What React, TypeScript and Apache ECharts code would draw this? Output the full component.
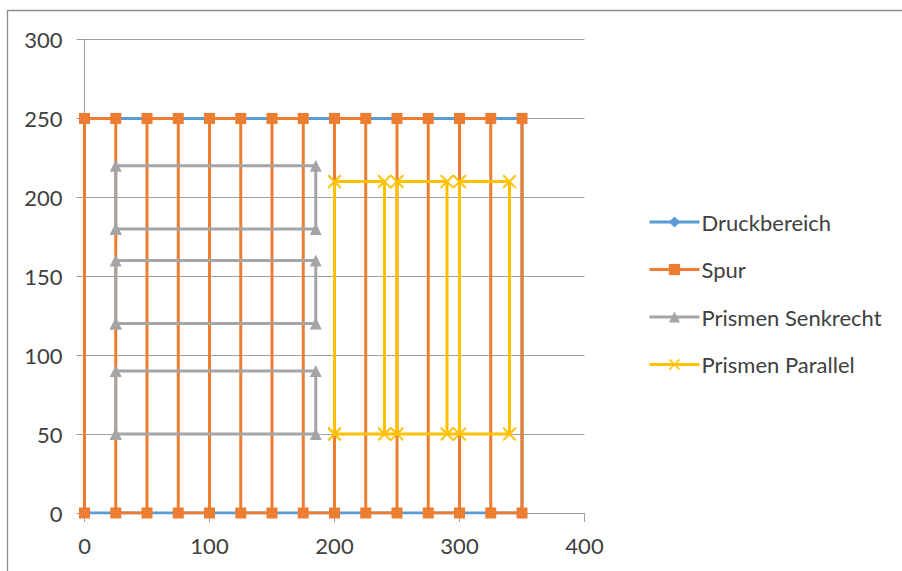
import React, { useEffect, useRef } from "react";
import * as echarts from "echarts";

// Druckbereich (print area outline)
const druckX = [0, 350, 350, 0, 0];
const druckY = [0, 0, 250, 250, 0];

// Spur (track)
const spurX = [0, 0, 25, 25, 50, 50, 75, 75, 100, 100, 125, 125, 150, 150, 175, 175, 200, 200, 225, 225, 250, 250, 275, 275, 300, 300, 325, 325, 350, 350];
const spurY = [0, 250, 250, 0, 0, 250, 250, 0, 0, 250, 250, 0, 0, 250, 250, 0, 0, 250, 250, 0, 0, 250, 250, 0, 0, 250, 250, 0, 0, 250];

// Prismen Senkrecht (null = gap)
const senkX = [25, 185, 185, 25, 25, null, 25, 185, 185, 25, 25, null, 25, 185, 185, 25, 25];
const senkY = [50, 50, 90, 90, 50, null, 120, 120, 160, 160, 120, null, 180, 180, 220, 220, 180];

// Prismen Parallel
const parX = [200, 200, 240, 240, 250, 250, 290, 290, 300, 300, 340, 340, 200];
const parY = [50, 210, 210, 50, 50, 210, 210, 50, 50, 210, 210, 50, 50];

const seriesNames = ["Druckbereich", "Spur", "Prismen Senkrecht", "Prismen Parallel"];
const seriesColors = ["#5B9BD5", "#ED7D31", "#A5A5A5", "#FFC000"];

const xTicks = [0, 100, 200, 300, 400];
const yTicks = [0, 50, 100, 150, 200, 250, 300];

const FONT = "Lato";
const FS = 22;
const xSymbol = "path://M0,1L1,0L10,9L9,10ZM9,0L10,1L1,10L0,9Z";

function pairs(xs: (number | null)[], ys: (number | null)[]) {
  return xs.map((x, i) => (x === null || ys[i] === null ? ["-", "-"] : [x, ys[i]]));
}

export default function App() {
  const ref = useRef<HTMLDivElement>(null);
  useEffect(() => {
    if (!ref.current) return;
    const chart = echarts.init(ref.current, undefined, { renderer: "svg" });
    const mk = (i: number, xs: any[], ys: any[], symbol: string, size: number) => ({
      name: seriesNames[i],
      type: "line",
      data: pairs(xs, ys),
      symbol,
      symbolSize: size,
      showAllSymbol: true,
      connectNulls: false,
      lineStyle: { color: seriesColors[i], width: 3 },
      itemStyle: { color: seriesColors[i] },
      emphasis: { disabled: true },
    });
    chart.setOption({
      animation: false,
      textStyle: { fontFamily: FONT },
      graphic: [
        {
          type: "rect",
          shape: { x: 7.5, y: 10.5, width: 1000, height: 1000 },
          style: { fill: "none", stroke: "#8c8c8c", lineWidth: 1.3 },
          silent: true,
        },
      ],
      grid: { left: 84.5, top: 39.5, width: 500, height: 473.5, containLabel: false },
      xAxis: {
        type: "value",
        min: xTicks[0],
        max: xTicks[xTicks.length - 1],
        interval: 100,
        splitLine: { show: false },
        axisLine: { show: true, lineStyle: { color: "#9d9d9d", width: 1 } },
        axisTick: { show: true, length: 9, lineStyle: { color: "#9d9d9d" } },
        axisLabel: { color: "#404040", fontSize: FS, fontFamily: FONT, margin: 21 },
      },
      yAxis: {
        type: "value",
        min: yTicks[0],
        max: yTicks[yTicks.length - 1],
        interval: 50,
        splitLine: { show: true, lineStyle: { color: "#a0a0a0", width: 1 } },
        axisLine: { show: true, lineStyle: { color: "#9d9d9d", width: 1 } },
        axisTick: { show: true, length: 8, lineStyle: { color: "#9d9d9d" } },
        axisLabel: { color: "#404040", fontSize: FS, fontFamily: FONT, margin: 22 },
      },
      legend: {
        orient: "vertical",
        left: 643,
        top: 205,
        itemWidth: 50,
        itemHeight: 14,
        itemGap: 23.5,
        lineStyle: { width: 3 },
        textStyle: { color: "#404040", fontSize: FS, fontFamily: FONT, lineHeight: 24, padding: [0, 0, 0, -3] },
        data: seriesNames,
        selectedMode: false,
      },
      series: [
        mk(0, druckX, druckY, "diamond", 11),
        mk(1, spurX, spurY, "rect", 11),
        mk(2, senkX, senkY, "triangle", 12),
        mk(3, parX, parY, xSymbol, 14),
      ],
    });
    return () => chart.dispose();
  }, []);
  return (
    <div
      ref={ref}
      style={{ position: "fixed", left: 0, top: 0, width: 902, height: 571, background: "#fff" }}
    />
  );
}
